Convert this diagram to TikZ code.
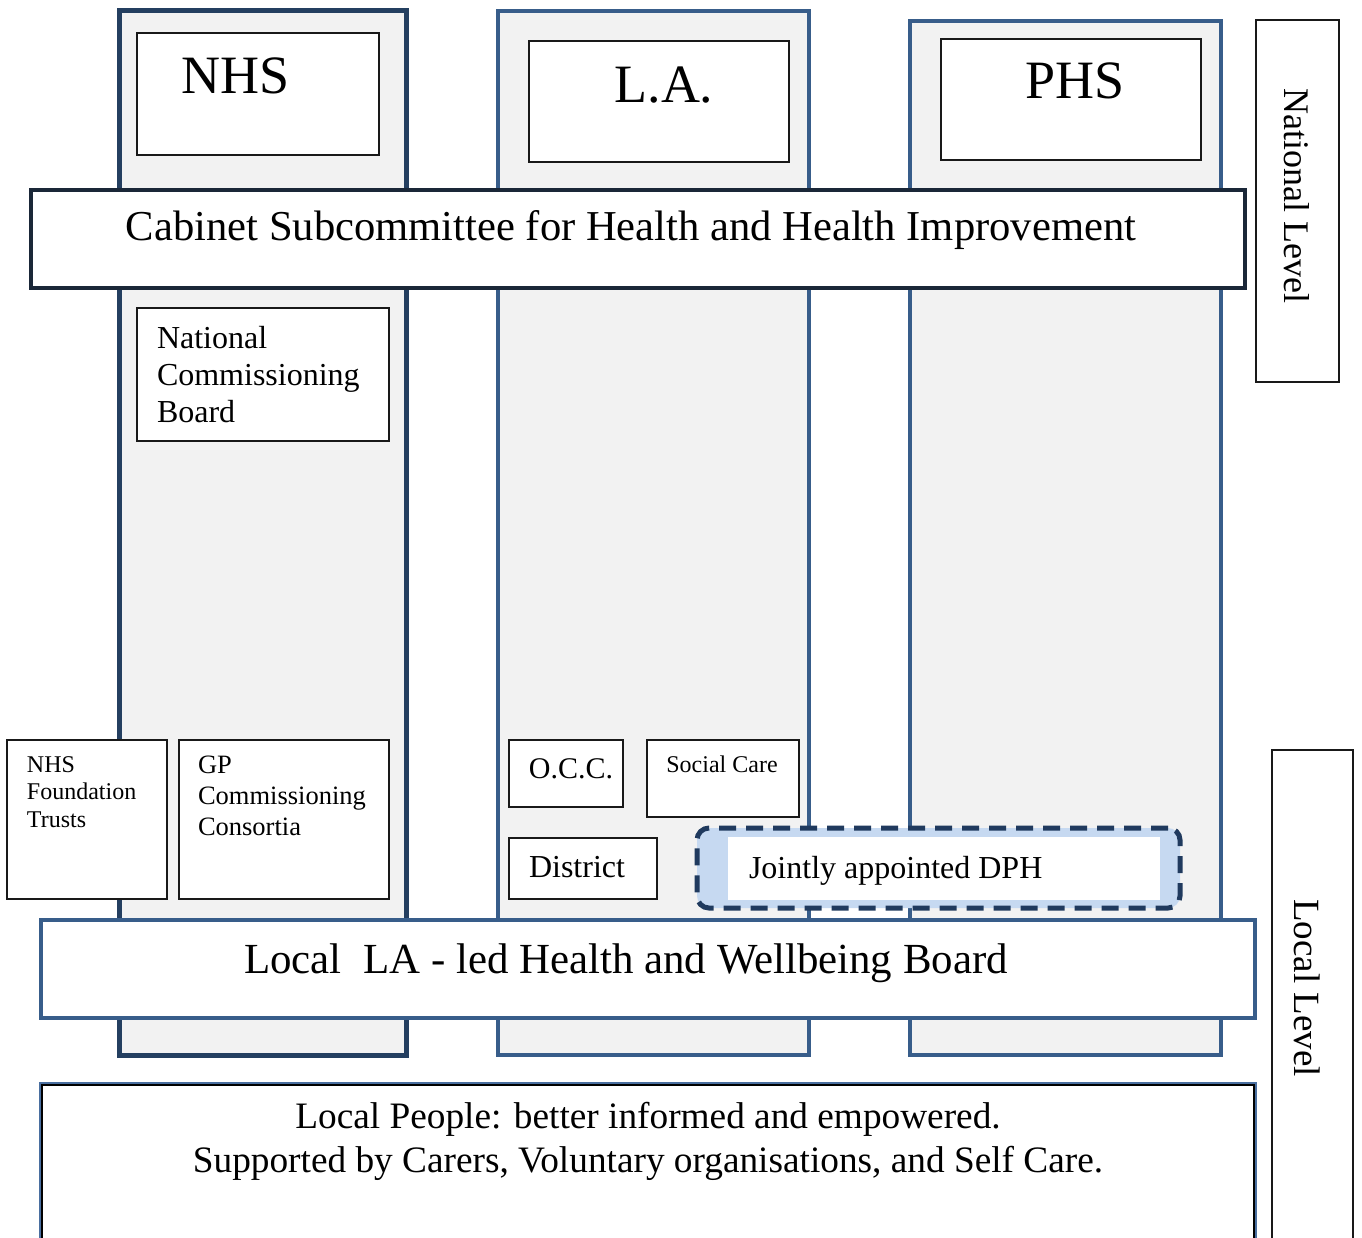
\documentclass[tikz,border=0pt]{standalone}
\usepackage{fontspec}
\setmainfont{Liberation Serif}
\usetikzlibrary{fit}
\definecolor{colfill}{HTML}{F2F2F2}
\definecolor{navy}{HTML}{243F60}
\definecolor{steel}{HTML}{385D8A}
\definecolor{cabline}{HTML}{1A2738}
\definecolor{dashnavy}{HTML}{203A5E}
\definecolor{dphfill}{HTML}{C6D9F1}
\definecolor{peopleblue}{HTML}{4A6FA0}
\begin{document}
\begin{tikzpicture}[x=1pt,y=-1pt,
  frame/.style={inner sep=0pt, outer sep=0pt},
  colnhs/.style={frame, draw=navy, line width=5pt, fill=colfill},
  colblue/.style={frame, draw=steel, line width=4.5pt, fill=colfill},
  thinbox/.style={frame, draw=black!90, line width=1.2pt, fill=white},
  label/.style={inner sep=0pt, outer sep=0pt, text=black},
  big/.style={label, font=\fontsize{54}{60}\selectfont, anchor=base},
]
\useasboundingbox (0,0) rectangle (1362,1237);

% the three organisational columns
\node[colnhs,  fit={(119,10) (406,1055)}] (nhscol) {};
\node[colblue, fit={(498,11) (809,1055)}] (lacol) {};
\node[colblue, fit={(910,21) (1221,1055)}] (phscol) {};

% column headings
\node[thinbox, fit={(137,33) (379,155)}] (nhsbox) {};
\node[big] (nhstext) at (236,93) {NHS};
\node[thinbox, fit={(529,41) (789,162)}] (labox) {};
\node[big] (latext) at (664,102) {L.A.};
\node[thinbox, fit={(941,39) (1201,160)}] (phsbox) {};
\node[big] (phstext) at (1075,98) {PHS};

% national level band
\node[frame, draw=cabline, line width=3.5pt, fill=white, fit={(31,190) (1245,288)}] (cabinet) {};
\node[label, anchor=base, font=\fontsize{42.6}{48}\selectfont] (cabtext) at (631,240)
  {Cabinet Subcommittee for Health and Health Improvement};

\node[thinbox, fit={(1256,20) (1339,382)}] (natbox) {};
\node[label, rotate=-90, font=\fontsize{36}{40}\selectfont] (nattext) at (1297,196) {National Level};

\node[thinbox, fit={(137,308) (389,441)}] (ncb) {};
\node[label, anchor=base west, align=left, font=\fontsize{32}{37}\selectfont] (ncbtext) at (157,422)
  {National\\Commissioning\\Board};

% local bodies
\node[thinbox, fit={(7,740) (167,899)}] (ft) {};
\node[label, anchor=base west, align=left, font=\fontsize{24}{27.5}\selectfont] (fttext) at (27,827)
  {NHS\\Foundation\\Trusts};
\node[thinbox, fit={(179,740) (389,899)}] (gp) {};
\node[label, anchor=base west, align=left, font=\fontsize{26.5}{31}\selectfont] (gptext) at (198,835)
  {GP\\Commissioning\\Consortia};

\node[thinbox, fit={(509,740) (623,807)}] (occ) {};
\node[label, anchor=base, font=\fontsize{30}{34}\selectfont] (occtext) at (571,778) {O.C.C.};
\node[thinbox, fit={(647,740) (799,817)}] (social) {};
\node[label, anchor=base, font=\fontsize{24}{28}\selectfont] (socialtext) at (722,772) {Social Care};
\node[thinbox, fit={(509,838) (657,899)}] (district) {};
\node[label, anchor=base, font=\fontsize{32}{36}\selectfont] (districttext) at (577,877) {District};

% jointly appointed director of public health
\node[frame, draw=dashnavy, line width=5pt, fill=dphfill, dash pattern=on 17pt off 10pt,
      rounded corners=12pt, fit={(697,828) (1180,908)}] (dph) {};
\node[frame, fill=white, fit={(728,837) (1160,900)}] (dphinner) {};
\node[label, anchor=base west, font=\fontsize{32}{36}\selectfont] (dphtext) at (749,878)
  {Jointly appointed DPH};

% local health and wellbeing board
\node[frame, draw=steel, line width=4.5pt, fill=white, fit={(41,920) (1255,1018)}] (hwb) {};
\node[label, anchor=base, font=\fontsize{42.9}{48}\selectfont] (hwbtext) at (626,973)
  {Local\ \ LA - led Health and Wellbeing Board};

% local people
\node[frame, draw=peopleblue, line width=2.5pt, fill=white, fit={(40,1083) (1256,1270)}] (people) {};
\node[frame, draw=black, line width=1.2pt, fit={(42,1085) (1254,1270)}] (peopleinner) {};
\node[label, anchor=base, align=center, font=\fontsize{37.3}{44}\selectfont] (peopletext) at (648,1172)
  {Local People: better informed and empowered.\\Supported by Carers, Voluntary organisations, and Self Care.};

\node[thinbox, fit={(1272,750) (1353,1270)}] (locbox) {};
\node[label, rotate=-90, font=\fontsize{37}{40}\selectfont] (loctext) at (1307,988) {Local Level};
\end{tikzpicture}
\end{document}
